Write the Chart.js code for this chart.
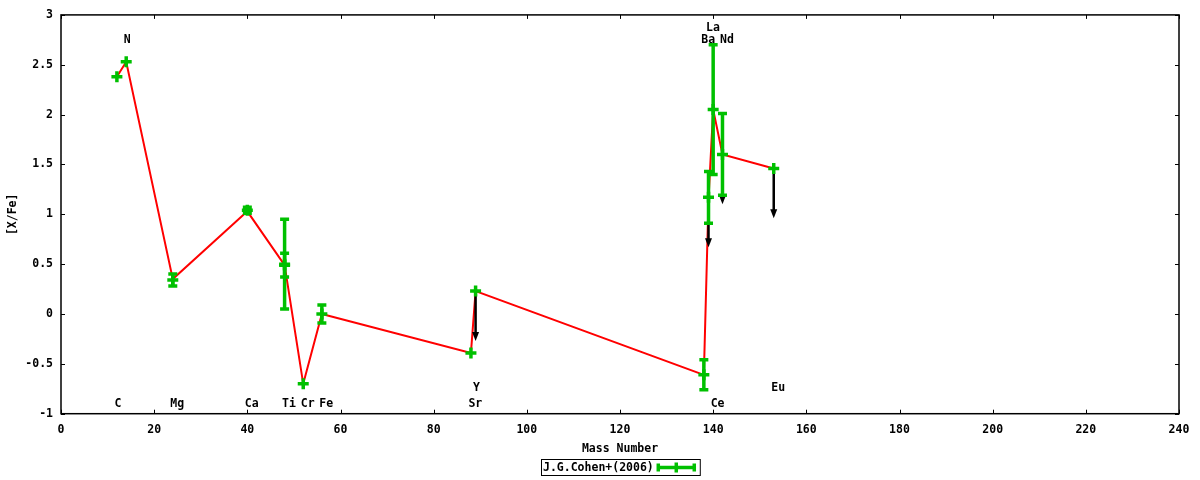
<!DOCTYPE html>
<html>
<head>
<meta charset="utf-8">
<script src="https://cdn.jsdelivr.net/npm/chart.js@4"></script>
<style>
    html, body { margin: 0; padding: 0; background: #fff; }
    #abundance-chart { display: block; }
</style>
</head>
<body>
<canvas id="abundance-chart" width="1200" height="480"></canvas>
<script>
// measured points (mass number, [X/Fe], error)
const massNumber = [12, 14, 24, 40, 48, 48, 52, 56, 88, 89, 138, 139, 140, 142, 153];
const abundance = [2.38, 2.53, 0.34, 1.04, 0.49, 0.50, -0.70, 0.00, -0.39, 0.23, -0.61, 1.17, 2.05, 1.60, 1.46];
const abundanceErr = [0, 0, 0.06, 0.03, 0.12, 0.45, 0, 0.09, 0, 0, 0.15, 0.26, 0.65, 0.41, 0];

// red pattern line, one value per element
const lineMass = [12, 14, 24, 40, 48, 52, 56, 88, 89, 138, 139, 140, 142, 153];
const lineAbundance = [2.38, 2.53, 0.35, 1.03, 0.49, -0.70, 0.00, -0.39, 0.23, -0.61, 1.15, 2.05, 1.60, 1.46];

// upper limits (drawn as arrows)
const limitMass = [89, 139, 142, 153];
const limitAbundance = [0.23, 1.17, 1.60, 1.46];
const limitLength = 0.5;

// element names
const elementNames = ['C', 'N', 'Mg', 'Ca', 'Ti', 'Cr', 'Fe', 'Sr', 'Y', 'Ba', 'La', 'Ce', 'Nd', 'Eu'];
const labelMass = [12, 14, 24, 40, 48, 52, 56, 88, 89, 138, 139, 140, 142, 153];
const labelLevel = [-0.9, 2.75, -0.9, -0.9, -0.9, -0.9, -0.9, -0.9, -0.74, 2.75, 2.87, -0.9, 2.75, -0.74];

const GREEN = '#00c000';
const RED = '#ff0000';
const FONT_FAMILY = "'DejaVu Sans Mono', 'Liberation Mono', monospace";
const FONT = { family: FONT_FAMILY, size: 11.5, weight: 'bold' };
const CSS_FONT = `bold 11.5px ${FONT_FAMILY}`;

function drawErrorBar(ctx, x, yTop, yBottom, cap) {
    ctx.beginPath();
    ctx.moveTo(x, yTop);
    ctx.lineTo(x, yBottom);
    ctx.moveTo(x - cap, yTop);
    ctx.lineTo(x + cap, yTop);
    ctx.moveTo(x - cap, yBottom);
    ctx.lineTo(x + cap, yBottom);
    ctx.stroke();
}

function drawLimits(chart) {
    const ctx = chart.ctx;
    const xScale = chart.scales.x;
    const yScale = chart.scales.y;
    ctx.save();
    ctx.strokeStyle = '#000';
    ctx.fillStyle = '#000';
    ctx.lineWidth = 2.5;
    limitMass.forEach((m, i) => {
        const x = xScale.getPixelForValue(m);
        const y0 = yScale.getPixelForValue(limitAbundance[i]);
        const y1 = yScale.getPixelForValue(limitAbundance[i] - limitLength);
        ctx.beginPath();
        ctx.moveTo(x, y0);
        ctx.lineTo(x, y1 - 7);
        ctx.stroke();
        ctx.beginPath();
        ctx.moveTo(x - 3.5, y1 - 9);
        ctx.lineTo(x + 3.5, y1 - 9);
        ctx.lineTo(x, y1);
        ctx.closePath();
        ctx.fill();
    });
    ctx.restore();
}

function drawErrorBars(chart) {
    const ctx = chart.ctx;
    const xScale = chart.scales.x;
    const yScale = chart.scales.y;
    ctx.save();
    ctx.strokeStyle = GREEN;
    ctx.lineWidth = 3.5;
    massNumber.forEach((m, i) => {
        if (!abundanceErr[i]) return;
        const x = xScale.getPixelForValue(m);
        drawErrorBar(ctx, x,
            yScale.getPixelForValue(abundance[i] + abundanceErr[i]),
            yScale.getPixelForValue(abundance[i] - abundanceErr[i]), 4.5);
    });
    ctx.restore();
}

function drawFrame(chart) {
    const ctx = chart.ctx;
    const area = chart.chartArea;
    ctx.save();
    ctx.strokeStyle = '#000';
    ctx.lineWidth = 1.5;
    ctx.strokeRect(area.left, area.top, area.right - area.left, area.bottom - area.top);
    ctx.lineWidth = 1;
    ctx.beginPath();
    chart.scales.x.ticks.forEach(t => {
        const x = Math.round(chart.scales.x.getPixelForValue(t.value)) + 0.5;
        ctx.moveTo(x, area.bottom);
        ctx.lineTo(x, area.bottom - 4);
        ctx.moveTo(x, area.top);
        ctx.lineTo(x, area.top + 4);
    });
    chart.scales.y.ticks.forEach(t => {
        const y = Math.round(chart.scales.y.getPixelForValue(t.value)) + 0.5;
        ctx.moveTo(area.left, y);
        ctx.lineTo(area.left + 4, y);
        ctx.moveTo(area.right, y);
        ctx.lineTo(area.right - 4, y);
    });
    ctx.stroke();
    ctx.restore();
}

function drawElementLabels(chart) {
    const ctx = chart.ctx;
    ctx.save();
    ctx.font = CSS_FONT;
    ctx.fillStyle = '#000';
    ctx.textAlign = 'left';
    ctx.textBaseline = 'middle';
    elementNames.forEach((name, i) => {
        const x = chart.scales.x.getPixelForValue(labelMass[i]) - 2.5;
        const y = chart.scales.y.getPixelForValue(labelLevel[i]);
        ctx.fillText(name, x, y);
    });
    ctx.restore();
}

function drawLegend(chart) {
    const ctx = chart.ctx;
    const area = chart.chartArea;
    const label = chart.data.datasets[1].label;
    ctx.save();
    ctx.font = CSS_FONT;
    const textWidth = ctx.measureText(label).width;
    const boxWidth = textWidth + 48;
    const left = Math.round((area.left + area.right) / 2 - boxWidth / 2) + 0.5;
    const top = 459.5;
    ctx.strokeStyle = '#000';
    ctx.lineWidth = 1;
    ctx.strokeRect(left, top, boxWidth, 16);
    ctx.fillStyle = '#000';
    ctx.textBaseline = 'middle';
    ctx.fillText(label, left + 1.5, top + 8.5);
    const x0 = left + textWidth + 6;
    const x1 = x0 + 36;
    const ym = top + 8;
    ctx.strokeStyle = GREEN;
    ctx.lineWidth = 3.5;
    ctx.beginPath();
    ctx.moveTo(x0, ym);
    ctx.lineTo(x1, ym);
    ctx.moveTo(x0, ym - 4);
    ctx.lineTo(x0, ym + 4);
    ctx.moveTo(x1, ym - 4);
    ctx.lineTo(x1, ym + 4);
    ctx.moveTo((x0 + x1) / 2, ym - 5);
    ctx.lineTo((x0 + x1) / 2, ym + 5);
    ctx.stroke();
    ctx.restore();
}

const gnuplotLook = {
    id: 'gnuplotLook',
    afterDatasetDraw(chart, args) {
        // arrows and error bars go above the red line, below the green crosses
        if (args.index !== 0) return;
        drawLimits(chart);
        drawErrorBars(chart);
    },
    afterDraw(chart) {
        drawFrame(chart);
        drawElementLabels(chart);
        drawLegend(chart);
    }
};

const ctx = document.getElementById('abundance-chart').getContext('2d');
new Chart(ctx, {
    type: 'scatter',
    data: {
        datasets: [{
            label: 'pattern',
            data: lineMass.map((m, i) => ({ x: m, y: lineAbundance[i] })),
            showLine: true,
            borderColor: RED,
            borderWidth: 2,
            pointRadius: 0,
            order: 2
        }, {
            label: 'J.G.Cohen+(2006)',
            data: massNumber.map((m, i) => ({ x: m, y: abundance[i] })),
            showLine: false,
            pointStyle: 'cross',
            pointRadius: 5.5,
            borderColor: GREEN,
            backgroundColor: GREEN,
            borderWidth: 3.5,
            order: 1
        }]
    },
    options: {
        responsive: false,
        animation: false,
        devicePixelRatio: 1,
        layout: { autoPadding: false, padding: { left: 0, right: 21, top: 13.5, bottom: 0 } },
        plugins: {
            legend: { display: false },
            tooltip: { enabled: false }
        },
        scales: {
            x: {
                type: 'linear',
                min: 0,
                max: 240,
                afterFit: scale => { scale.height = 66.3; },
                grid: { display: false, drawTicks: false },
                border: { display: false },
                ticks: { stepSize: 20, color: '#000', font: FONT, padding: 9, maxRotation: 0 },
                title: { display: true, text: 'Mass Number', color: '#000', font: FONT, padding: { top: 4, bottom: 24 } }
            },
            y: {
                type: 'linear',
                min: -1,
                max: 3,
                afterFit: scale => { scale.width = 61; },
                grid: { display: false, drawTicks: false },
                border: { display: false },
                ticks: {
                    stepSize: 0.5, color: '#000', font: FONT, padding: 8,
                    callback: value => String(Number(value.toFixed(2)))
                },
                title: { display: true, text: '[X/Fe]', color: '#000', font: FONT, padding: { top: 6, bottom: 0 } }
            }
        }
    },
    plugins: [gnuplotLook]
});
</script>
</body>
</html>
